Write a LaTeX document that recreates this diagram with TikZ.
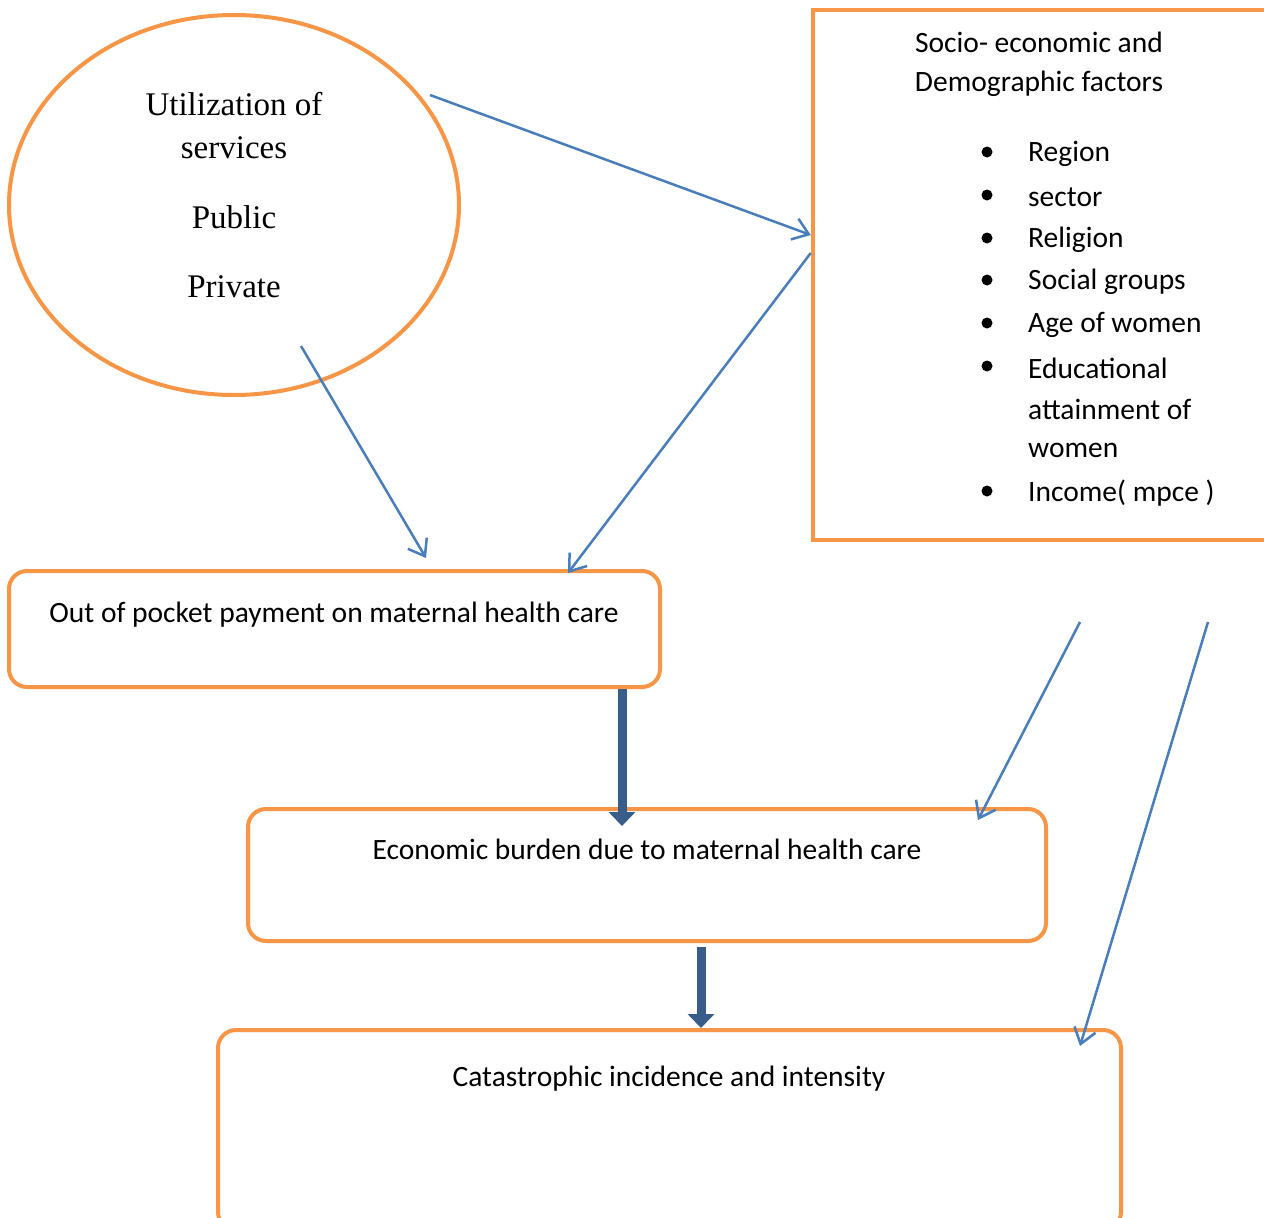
\documentclass[tikz,border=0pt]{standalone}
\usepackage{fontspec}
\setmainfont{Carlito}
\newfontfamily\seriffont{Liberation Serif}
\usetikzlibrary{shapes.geometric,arrows.meta}
\definecolor{orng}{HTML}{F79646}
\definecolor{blu}{HTML}{4A7EBB}
\definecolor{dblu}{HTML}{385D8A}
\tikzset{
  obox/.style={draw=orng, line width=4pt, rounded corners=18pt, minimum width=#1},
  thin/.style={draw=blu, line width=2.5pt, -{Straight Barb[length=15pt,width=22pt]}},
  thick/.style={draw=dblu, line width=9pt, -{Triangle[length=14pt 0 0,width=26pt 0 0]}},
  txt/.style={font=\fontsize{29.5}{34}\selectfont, inner sep=0pt},
  stxt/.style={font=\seriffont\fontsize{33}{38}\selectfont, inner sep=0pt},
  bul/.style={fill=black, circle, inner sep=0pt, minimum size=11pt}
}
\begin{document}
\begin{tikzpicture}[x=1pt,y=-1pt]
\useasboundingbox (0,0) rectangle (1264,1218);
\clip (0,0) rectangle (1264,1218);
\fill[white] (0,0) rectangle (1264,1218);
% ellipse
\node[draw=orng, line width=4pt, ellipse, minimum width=450pt, minimum height=380pt, inner sep=0pt] (ell) at (234,205) {};
\node[stxt] (e1) at (234,104) {Utilization of};
\node[stxt] (e2) at (234,148) {services};
\node[stxt] (e3) at (234,217) {Public};
\node[stxt] (e4) at (234,287) {Private};
% right box
\node[draw=orng, line width=4.5pt, minimum width=460pt, minimum height=530pt, inner sep=0pt] (rb) at (1043,275) {};
\node[txt] (r1) at (1039,42) {Socio- economic and};
\node[txt] (r2) at (1039,84) {Demographic factors};
\foreach \y/\t [count=\i] in {154/Region,197/sector,240/Religion,282/Social groups,325/Age of women,368/Educational,493/Income( mpce )}{
  \node[txt, anchor=west] (it\i) at (1028,\y) {\t};
}
\node[txt, anchor=west] (it8) at (1028,409) {attainment of};
\node[txt, anchor=west] (it9) at (1028,450) {women};
\foreach \y [count=\i] in {152,195,238,280,323,366,491}{
  \node[bul] (b\i) at (987,\y) {};
}
% boxes
\node[obox=651pt, minimum height=116pt] (ob) at (334.5,629) {};
\node[txt] (obt) at (334,615) {Out of pocket payment on maternal health care};
\node[obox=798pt, minimum height=132pt] (eb) at (647,875) {};
\node[txt] (ebt) at (647,849) {Economic burden due to maternal health care};
\node[obox=903pt, minimum height=200pt] (cb) at (669.5,1130) {};
\node[txt] (cbt) at (669,1079) {Catastrophic incidence and intensity};
% arrows
\coordinate (s1) at (430,95);
\coordinate (s2) at (301,346);
\coordinate (s3) at (1080,622);
\coordinate (s4) at (1208,622);
\draw[thin] (s1) -- (rb.west |- 0,235);
\draw[thin] (rb.west |- 0,253) -- (568,573);
\draw[thin] (s2) -- (426,558);
\draw[thin] (s3) -- (978,820);
\draw[thin] (s4) -- (1080,1046);
\draw[thick] (ob.south -| 622,0) -- (622,826);
\draw[thick] (701,947) -- (cb.north -| 701,0);
\end{tikzpicture}
\end{document}
